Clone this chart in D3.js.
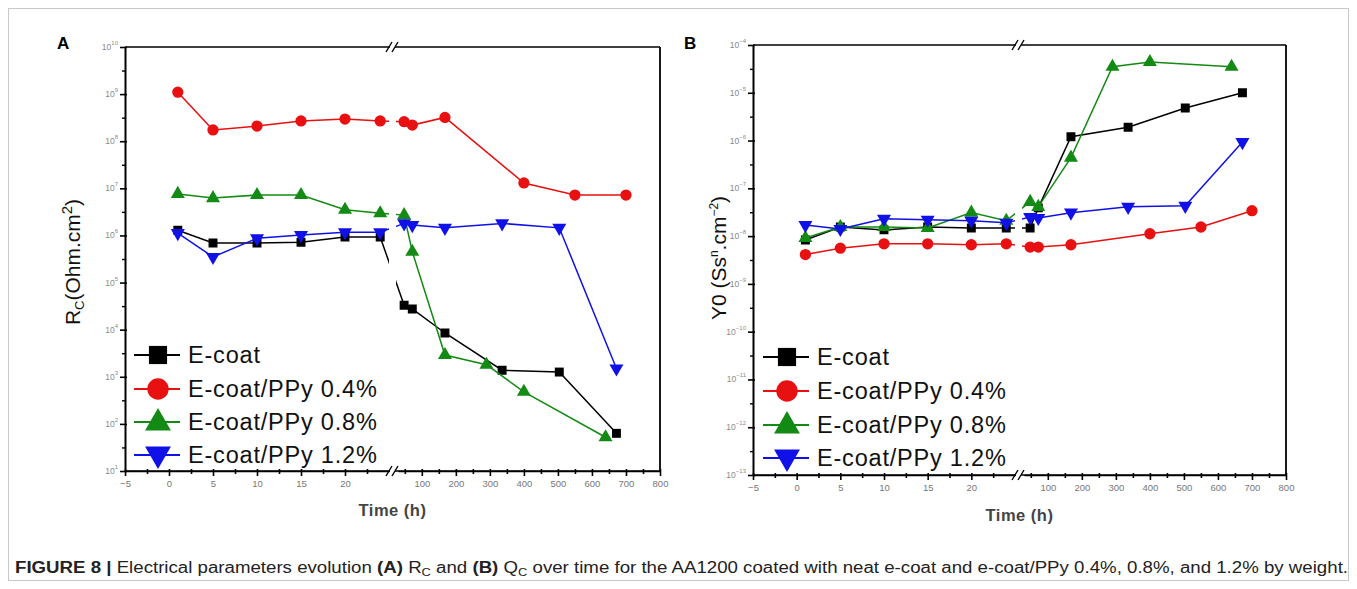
<!DOCTYPE html>
<html><head><meta charset="utf-8">
<script src="https://cdn.jsdelivr.net/npm/d3@7"></script>
<style>body{margin:0;background:#fff;} svg{display:block;}</style>
</head><body>
<svg id="c" width="1357" height="589"></svg>
<script>
// ---------- DATA ----------
const seriesNames = ["E-coat", "E-coat/PPy 0.4%", "E-coat/PPy 0.8%", "E-coat/PPy 1.2%"];
// times (h)
const timeBlack = [1, 5, 10, 15, 20, 24, 48, 72, 168, 336, 504, 672];
const timeRed   = [1, 5, 10, 15, 20, 24, 48, 72, 168, 400, 550, 700];
const timeGreen = [1, 5, 10, 15, 20, 24, 48, 72, 168, 290, 400, 640];
const timeBlue  = [1, 5, 10, 15, 20, 24, 48, 72, 168, 336, 504, 672];
// Panel A : Rc (Ohm.cm2)
const rcBlack = [1.29e6, 6.9e5, 6.9e5, 7.2e5, 9.3e5, 9.3e5, 3.3e4, 2.75e4, 8.5e3, 1.38e3, 1.26e3, 63];
const rcRed   = [1.1e9, 1.74e8, 2.1e8, 2.7e8, 2.95e8, 2.7e8, 2.6e8, 2.2e8, 3.2e8, 1.3e7, 7.2e6, 7.2e6];
const rcGreen = [7.6e6, 6.2e6, 7.2e6, 7.2e6, 3.5e6, 2.95e6, 2.7e6, 4.5e5, 2.9e3, 1.8e3, 4.8e2, 52];
const rcBlue  = [1.12e6, 3.5e5, 8.7e5, 1.02e6, 1.17e6, 1.17e6, 1.8e6, 1.66e6, 1.45e6, 1.8e6, 1.45e6, 1.5e3];
// Panel B : Y0 (Ss^n.cm-2)
const y0Black = [8.3e-9, 1.55e-8, 1.35e-8, 1.55e-8, 1.48e-8, 1.48e-8, 1.48e-8, 3.9e-8, 1.2e-6, 1.9e-6, 4.8e-6, 1.0e-5];
const y0Red   = [4.1e-9, 5.6e-9, 6.9e-9, 6.9e-9, 6.6e-9, 6.9e-9, 5.9e-9, 5.9e-9, 6.6e-9, 1.12e-8, 1.55e-8, 3.4e-8];
const y0Green = [9.1e-9, 1.55e-8, 1.55e-8, 1.48e-8, 3.1e-8, 2.1e-8, 5.2e-8, 4.1e-8, 4.4e-7, 3.5e-5, 4.4e-5, 3.5e-5];
const y0Blue  = [1.7e-8, 1.41e-8, 2.3e-8, 2.2e-8, 2.1e-8, 1.9e-8, 2.5e-8, 2.4e-8, 3.1e-8, 4.1e-8, 4.3e-8, 9.3e-7];
// ticks
const xTicksLeft = [-5, 0, 5, 10, 15, 20];
const xTicksRight = [100, 200, 300, 400, 500, 600, 700, 800];
const yExpA = [10, 9, 8, 7, 6, 5, 4, 3, 2, 1];
const yExpB = [-4, -5, -6, -7, -8, -9, -10, -11, -12, -13];

// ---------- STYLE ----------
const colors = ["#000000", "#e81010", "#138a13", "#1010e8"];
const symbols = [d3.symbolSquare, d3.symbolCircle, d3.symbolTriangle, d3.symbolTriangle];
const rot = [0, 0, 0, 180];

const svg = d3.select("#c");
svg.append("rect").attr("x", 8.5).attr("y", 8.5).attr("width", 1340).attr("height", 572)
  .attr("fill", "none").attr("stroke", "#c8c8c8").attr("stroke-width", 1);

function panel(cfg) {
  const g = svg.append("g");
  const xl = d3.scaleLinear().domain([-5, 25]).range([cfg.x0, cfg.xBreak - 3]);
  const xr = d3.scaleLinear().domain([30, 800]).range([cfg.xBreak + 6, cfg.x1]);
  const X = t => t <= 27 ? xl(t) : xr(t);
  const y = d3.scaleLog().domain([Math.pow(10, cfg.yExp[cfg.yExp.length - 1]), Math.pow(10, cfg.yExp[0])]).range([cfg.y1, cfg.y0]);
  const gapL = cfg.xBreak - 3, gapR = cfg.xBreak + 4;

  // clip
  const cid = "clip" + cfg.id;
  const cp = svg.append("defs").append("clipPath").attr("id", cid);
  cp.append("rect").attr("x", cfg.x0 - 20).attr("y", cfg.y0 - 20).attr("width", gapL - cfg.x0 + 20).attr("height", cfg.y1 - cfg.y0 + 40);
  cp.append("rect").attr("x", gapR).attr("y", cfg.y0 - 20).attr("width", cfg.x1 - gapR + 20).attr("height", cfg.y1 - cfg.y0 + 40);

  // frame: top and right
  g.append("line").attr("x1", cfg.x0).attr("x2", gapL + 1).attr("y1", cfg.y0).attr("y2", cfg.y0).attr("stroke", "#000").attr("stroke-width", 1.6);
  g.append("line").attr("x1", gapR - 1).attr("x2", cfg.x1).attr("y1", cfg.y0).attr("y2", cfg.y0).attr("stroke", "#000").attr("stroke-width", 1.6);
  g.append("line").attr("x1", cfg.x1).attr("x2", cfg.x1).attr("y1", cfg.y0).attr("y2", cfg.y1).attr("stroke", "#000").attr("stroke-width", 1.8);

  // bottom axes
  const axL = g.append("g").attr("transform", `translate(0,${cfg.y1})`)
    .call(d3.axisBottom(xl).tickValues(xTicksLeft).tickSize(5).tickSizeOuter(0).tickPadding(4));
  const axLm = g.append("g").attr("transform", `translate(0,${cfg.y1})`)
    .call(d3.axisBottom(xl).tickValues([-2.5, 2.5, 7.5, 12.5, 17.5, 22.5]).tickSize(3).tickFormat(""));
  const axR = g.append("g").attr("transform", `translate(0,${cfg.y1})`)
    .call(d3.axisBottom(xr).tickValues(xTicksRight).tickSize(5).tickSizeOuter(0).tickPadding(4));
  const axRm = g.append("g").attr("transform", `translate(0,${cfg.y1})`)
    .call(d3.axisBottom(xr).tickValues([50, 150, 250, 350, 450, 550, 650, 750]).tickSize(3).tickFormat(""));
  [axL, axLm, axR, axRm].forEach(a => {
    a.select(".domain").attr("stroke-width", 1.6);
    a.selectAll(".tick line").attr("stroke-width", 1.6).attr("y1", -2);
    a.selectAll("text").attr("fill", "#777").attr("font-size", 9.5).attr("font-family", "Liberation Sans, Arial, sans-serif");
  });
  axLm.select(".domain").remove(); axRm.select(".domain").remove();
  g.append("line").attr("x1", cfg.x0).attr("x2", gapL + 1).attr("y1", cfg.y1).attr("y2", cfg.y1).attr("stroke", "#000").attr("stroke-width", 1.6);
  g.append("line").attr("x1", gapR - 1).attr("x2", cfg.x1).attr("y1", cfg.y1).attr("y2", cfg.y1).attr("stroke", "#000").attr("stroke-width", 1.6);

  // break marks
  [cfg.y0, cfg.y1].forEach(yy => {
    [-3, 3].forEach(dx => {
      g.append("line").attr("x1", cfg.xBreak + dx - 3).attr("x2", cfg.xBreak + dx + 3)
        .attr("y1", yy + 5).attr("y2", yy - 5).attr("stroke", "#000").attr("stroke-width", 1.4);
    });
  });

  // y axis
  const ay = g.append("g").attr("transform", `translate(${cfg.x0},0)`)
    .call(d3.axisLeft(y).tickValues(cfg.yExp.map(e => Math.pow(10, e))).tickSize(5).tickSizeOuter(0).tickPadding(6).tickFormat(""));
  ay.select(".domain").attr("stroke-width", 2);
  ay.selectAll(".tick line").attr("stroke-width", 1.6).attr("x1", 2);
  const minors = cfg.yExp.slice(1).map(e => Math.pow(10, e + 0.5));
  g.append("g").attr("transform", `translate(${cfg.x0},0)`)
    .call(d3.axisLeft(y).tickValues(minors).tickSize(3).tickFormat(""))
    .call(a => { a.select(".domain").remove(); a.selectAll(".tick line").attr("stroke-width", 1.4).attr("x1", 1); });
  cfg.yExp.forEach(e => {
    const t = g.append("text").attr("x", cfg.x0 - 7).attr("y", y(Math.pow(10, e)) + 3)
      .attr("text-anchor", "end").attr("fill", "#8a8a8a").attr("font-size", 8.5).attr("font-family", "Liberation Sans, Arial, sans-serif");
    t.append("tspan").text("10");
    t.append("tspan").attr("dy", -5).attr("font-size", 6).text(String(e).replace("-", "\u2212"));
  });

  // data
  const dg = g.append("g").attr("clip-path", `url(#${cid})`);
  const line = d3.line().x(d => X(d[0])).y(d => y(d[1]));
  cfg.series.forEach((s, i) => {
    const pts = s.t.map((t, k) => [t, s.v[k]]);
    dg.append("path").attr("d", line(pts)).attr("fill", "none").attr("stroke", colors[i]).attr("stroke-width", 1.5);
    const sizes = [80, 100, 85, 85];
    dg.selectAll(null).data(pts).enter().append("path")
      .attr("d", d3.symbol().type(symbols[i]).size(sizes[i]))
      .attr("transform", d => `translate(${X(d[0])},${y(d[1])}) rotate(${rot[i]})`)
      .attr("fill", colors[i]);
  });

  // legend
  seriesNames.forEach((n, i) => {
    const ly = cfg.legY[i];
    g.append("line").attr("x1", cfg.legX - 24).attr("x2", cfg.legX + 22).attr("y1", ly).attr("y2", ly)
      .attr("stroke", colors[i]).attr("stroke-width", 2.2);
    g.append("path").attr("d", d3.symbol().type(symbols[i]).size([330, 360, 290, 290][i])())
      .attr("transform", `translate(${cfg.legX},${ly + (i === 3 ? -1 : (i === 2 ? 1 : 0))}) rotate(${rot[i]})`).attr("fill", colors[i]);
    g.append("text").attr("x", cfg.legX + 30).attr("y", ly + 8).text(n)
      .attr("font-size", 23.5).attr("letter-spacing", 0.8).attr("font-family", "Liberation Sans, Arial, sans-serif").attr("fill", "#111");
  });

  // axis titles
  g.append("text").attr("x", (cfg.x0 + cfg.x1) / 2 + cfg.titleDx).attr("y", cfg.y1 + cfg.titleDy)
    .attr("text-anchor", "middle").attr("font-size", 16.5).attr("font-weight", "bold").attr("letter-spacing", 0.5)
    .attr("font-family", "Liberation Sans, Arial, sans-serif").attr("fill", "#444").text("Time (h)");
  const yt = g.append("text").attr("transform", `translate(${cfg.yTitleX},${cfg.yTitleY}) rotate(-90)`)
    .attr("text-anchor", "middle").attr("font-size", 21).attr("font-family", "Liberation Sans, Arial, sans-serif").attr("fill", "#111");
  cfg.yTitle(yt);

  // panel letter
  svg.append("text").attr("x", cfg.letterX).attr("y", 49).text(cfg.letter)
    .attr("font-size", 17).attr("font-weight", "bold").attr("font-family", "Liberation Sans, Arial, sans-serif");
}

panel({
  id: "A", letter: "A", letterX: 57,
  x0: 125, x1: 660, xBreak: 392, y0: 47, y1: 471, yExp: yExpA,
  series: [{t: timeBlack, v: rcBlack}, {t: timeRed, v: rcRed}, {t: timeGreen, v: rcGreen}, {t: timeBlue, v: rcBlue}],
  legX: 158, legY: [355, 389, 422, 455], titleDx: 0, titleDy: 45,
  yTitleX: 80, yTitleY: 262,
  yTitle: t => {
    t.append("tspan").text("R");
    t.append("tspan").attr("font-size", 13).attr("dy", 4).text("C");
    t.append("tspan").attr("dy", -4).text("(Ohm.cm");
    t.append("tspan").attr("font-size", 15).attr("dy", -8).text("2");
    t.append("tspan").attr("dy", 8).text(")");
  }
});

panel({
  id: "B", letter: "B", letterX: 684,
  x0: 753, x1: 1286, xBreak: 1018, y0: 45, y1: 475, yExp: yExpB,
  series: [{t: timeBlack, v: y0Black}, {t: timeRed, v: y0Red}, {t: timeGreen, v: y0Green}, {t: timeBlue, v: y0Blue}],
  legX: 787, legY: [357, 391, 425, 458], titleDx: 0, titleDy: 46,
  yTitleX: 726, yTitleY: 258,
  yTitle: t => {
    t.append("tspan").text("Y0 (Ss");
    t.append("tspan").attr("font-size", 12).attr("dy", -8).text("n");
    t.append("tspan").attr("dy", 8).text(".cm");
    t.append("tspan").attr("font-size", 12).attr("dy", -8).text("\u22122");
    t.append("tspan").attr("dy", 8).text(")");
  }
});

// caption
const cap = svg.append("text").attr("x", 15).attr("y", 573).attr("font-size", 16)
  .attr("font-family", "Liberation Sans Narrow, Arial Narrow, Liberation Sans, sans-serif").attr("fill", "#222")
  .attr("textLength", 1333).attr("lengthAdjust", "spacingAndGlyphs");
cap.append("tspan").attr("font-weight", "bold").text("FIGURE 8 | ");
cap.append("tspan").text("Electrical parameters evolution ");
cap.append("tspan").attr("font-weight", "bold").text("(A)");
cap.append("tspan").text(" R");
cap.append("tspan").attr("font-size", 11).attr("dy", 3).text("C");
cap.append("tspan").attr("dy", -3).text(" and ");
cap.append("tspan").attr("font-weight", "bold").text("(B)");
cap.append("tspan").text(" Q");
cap.append("tspan").attr("font-size", 11).attr("dy", 3).text("C");
cap.append("tspan").attr("dy", -3).text(" over time for the AA1200 coated with neat e-coat and e-coat/PPy 0.4%, 0.8%, and 1.2% by weight.");
</script>
</body></html>
